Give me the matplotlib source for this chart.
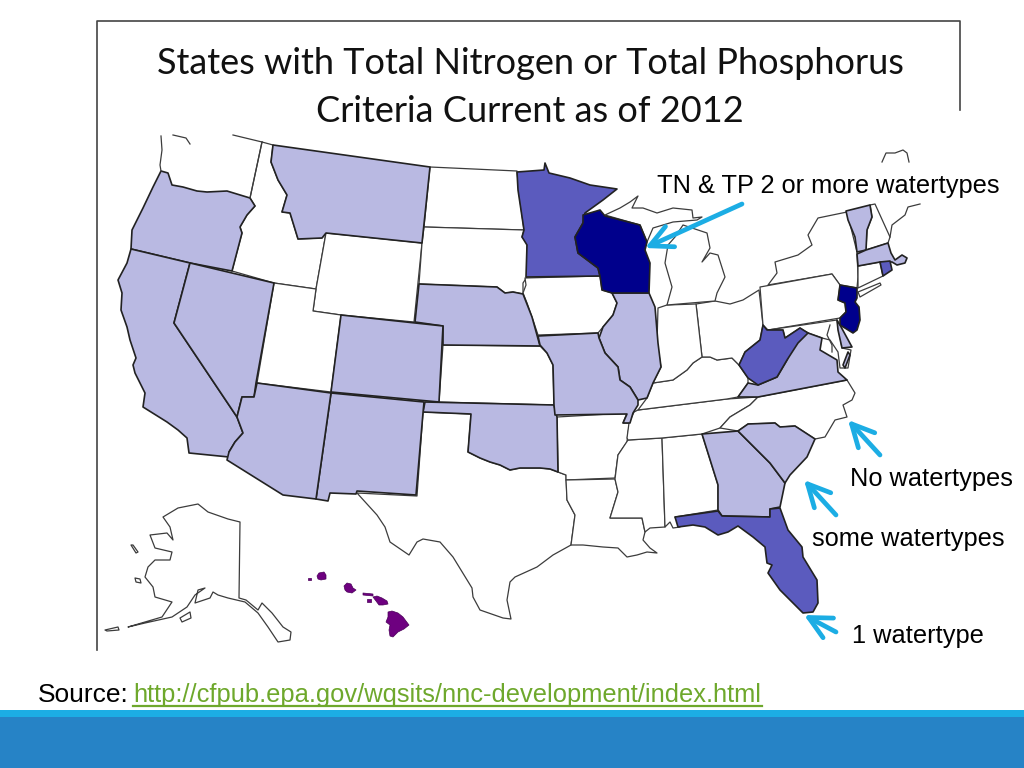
import matplotlib
matplotlib.use("Agg")
import matplotlib.pyplot as plt

# outlines, as (x, y) in picture pixels
OREGON = [(161,171),(168,173),(172,185),(183,187),(197,191),(207,192),(227,191),(250,198),(255,206),(247,215),(240,227),(242,233),(232,271),(190,263),(131,249),(132,230),(143,208),(153,187)]
CALIFORNIA = [(131,249),(190,263),(174,323),(237,417),(243,433),(235,442),(229,452),(229,457),(189,453),(187,438),(178,430),(167,422),(143,407),(145,393),(135,373),(133,365),(136,358),(130,340),(127,327),(121,310),(122,293),(118,280),(127,263)]
NEVADA = [(190,263),(274,283),(256,383),(254,397),(242,397),(237,417),(174,323)]
IDAHO = [(262,142),(273,145),(271,162),(278,180),(287,195),(282,212),(290,213),(298,239),(322,238),(326,233),(316,289),(274,283),(232,271),(242,233),(240,227),(247,215),(255,206),(250,198)]
MONTANA = [(273,145),(430,167),(422,243),(326,233),(322,238),(298,239),(290,213),(282,212),(287,195),(278,180),(271,162)]
WYOMING = [(326,233),(422,243),(414,322),(341,315),(313,311),(316,289)]
NORTH_DAKOTA = [(430,167),(517,171),(519,193),(524,230),(424,227)]
SOUTH_DAKOTA = [(424,227),(524,230),(522,237),(527,243),(527,277),(523,283),(523,294),(513,292),(505,293),(497,287),(419,284),(422,243)]
NEBRASKA = [(419,284),(497,287),(505,293),(513,292),(523,294),(532,317),(540,346),(443,345),(443,326),(415,322)]
UTAH = [(274,283),(316,289),(313,311),(341,315),(331,392),(257,383)]
COLORADO = [(341,315),(443,326),(439,402),(331,392)]
KANSAS = [(443,345),(540,346),(547,353),(553,365),(554,405),(439,402)]
OKLAHOMA = [(425,402),(554,405),(557,417),(558,472),(550,469),(540,468),(530,468),(520,468),(510,470),(500,465),(490,462),(480,458),(468,452),(471,414),(423,412)]
NEW_MEXICO = [(331,393),(424,402),(423,413),(416,495),(357,491),(356,494),(330,493),(328,501),(316,499)]
ARIZONA = [(257,383),(331,393),(316,499),(283,495),(227,460),(229,452),(235,442),(243,433),(237,417),(242,397),(254,397)]
TEXAS = [(423,412),(471,414),(468,452),(480,458),(490,462),(500,465),(510,470),(520,468),(530,468),(540,468),(550,469),(558,472),(566,475),(567,500),(575,515),(571,545),(553,555),(537,567),(515,577),(510,582),(507,600),(511,619),(503,618),(480,610),(473,597),(472,588),(453,557),(440,542),(423,539),(417,542),(409,555),(390,542),(385,527),(377,515),(357,493),(417,496)]
ARKANSAS = [(557,417),(627,413),(623,423),(630,423),(628,432),(627,442),(618,455),(615,478),(566,480),(566,475),(558,472)]
LOUISIANA = [(566,480),(615,479),(618,492),(610,518),(642,518),(645,532),(643,540),(650,548),(657,553),(647,552),(637,555),(627,557),(618,548),(603,547),(583,545),(571,545),(575,515),(567,500)]
MISSISSIPPI = [(628,440),(662,438),(665,527),(650,528),(645,532),(642,518),(610,518),(618,492),(615,479),(618,455)]
ALABAMA = [(662,438),(702,434),(718,485),(718,510),(675,517),(680,527),(673,528),(670,522),(665,527)]
GEORGIA = [(702,434),(738,431),(750,443),(770,463),(785,483),(780,507),(770,509),(770,517),(722,516),(718,510),(718,485)]
SOUTH_CAROLINA = [(738,431),(748,424),(775,423),(780,427),(795,426),(815,439),(807,457),(790,475),(785,483),(770,463),(750,443)]
FLORIDA = [(675,517),(718,511),(722,516),(770,517),(770,509),(780,508),(788,530),(802,547),(803,557),(817,580),(818,603),(813,612),(803,613),(790,600),(780,590),(768,573),(772,565),(767,563),(765,547),(753,537),(738,526),(728,532),(718,535),(705,527),(693,525),(678,527)]
TENNESSEE = [(638,410),(727,399),(758,397),(750,405),(730,417),(720,428),(702,434),(662,438),(628,440),(627,438),(629,423),(634,412)]
NORTH_CAROLINA = [(758,397),(847,380),(855,393),(852,400),(843,405),(847,417),(835,420),(825,437),(815,439),(795,426),(780,427),(775,423),(748,424),(738,431),(720,428),(730,417),(750,405)]
VIRGINIA = [(738,397),(748,383),(758,385),(777,377),(787,360),(793,347),(800,330),(808,333),(822,338),(820,350),(837,360),(838,372),(847,380),(758,397)]
WEST_VIRGINIA = [(763,325),(767,330),(783,330),(785,338),(800,328),(808,333),(798,343),(787,360),(777,377),(758,385),(748,378),(739,365),(745,352),(760,340)]
KENTUCKY = [(702,357),(710,357),(717,360),(732,358),(739,365),(748,378),(748,383),(738,397),(727,399),(638,410),(647,398),(653,383),(673,380),(687,370),(693,363)]
OHIO = [(696,304),(715,301),(730,304),(743,300),(759,290),(763,325),(760,340),(745,352),(739,365),(732,358),(717,360),(710,357),(702,357)]
INDIANA = [(658,308),(667,305),(696,304),(702,357),(693,363),(687,370),(673,380),(653,383),(661,367),(657,343)]
ILLINOIS = [(612,293),(649,293),(655,307),(658,343),(661,367),(653,383),(647,398),(638,400),(630,387),(620,380),(618,367),(605,353),(599,338),(603,327),(613,315),(617,303)]
IOWA = [(525,278),(600,276),(602,290),(612,293),(617,303),(613,315),(603,327),(598,333),(538,335),(533,320),(527,303),(523,293),(526,285)]
MISSOURI = [(538,336),(598,333),(599,338),(605,353),(618,367),(620,380),(630,387),(638,400),(638,405),(633,413),(630,423),(623,423),(627,414),(555,415),(554,405),(553,365),(547,353),(540,345)]
MINNESOTA = [(517,172),(544,170),(545,163),(549,173),(570,178),(590,185),(617,189),(603,200),(585,213),(583,223),(575,237),(578,253),(598,268),(600,276),(526,277),(527,245),(522,237),(524,230),(518,190)]
WISCONSIN = [(583,215),(600,210),(605,216),(640,225),(647,242),(645,250),(650,263),(649,293),(612,293),(602,290),(600,276),(598,268),(578,253),(575,237),(583,223)]
UPPER_MICHIGAN = [(605,215),(620,208),(630,202),(638,196),(632,208),(643,208),(657,213),(673,208),(692,210),(693,218),(702,217),(697,220),(673,222),(653,228),(647,242),(640,225)]
LOWER_MICHIGAN = [(683,225),(707,233),(710,248),(702,262),(710,253),(718,255),(725,277),(717,293),(715,301),(667,305),(672,287),(665,263),(668,245),(675,237)]
NEW_YORK = [(847,212),(818,218),(808,235),(812,245),(798,255),(775,262),(777,273),(768,285),(832,274),(840,285),(857,288),(858,277),(857,252)]
PENNSYLVANIA = [(760,287),(832,274),(840,285),(838,300),(845,303),(846,312),(840,318),(768,330),(763,325)]
NEW_JERSEY = [(840,285),(857,288),(857,298),(855,302),(859,307),(860,320),(857,330),(853,333),(840,325),(840,318),(846,312),(845,303),(838,300)]
DELAWARE = [(837,320),(840,325),(852,347),(842,348),(838,330)]
MARYLAND = [(768,330),(837,320),(842,348),(851,350),(848,368),(840,368),(838,352),(830,340),(822,338),(808,333),(800,328),(785,338),(783,330),(767,330)]
VA_SHORE = [(848,352),(850,355),(845,368),(843,365)]
VERMONT = [(846,211),(870,205),(872,217),(867,230),(866,250),(857,252),(855,237),(848,220)]
NEW_HAMPSHIRE = [(875,204),(890,237),(888,243),(866,250),(867,230),(872,217),(870,205)]
MASSACHUSETTS = [(857,254),(866,250),(888,243),(891,253),(895,260),(902,255),(907,258),(905,263),(897,265),(892,262),(880,262),(858,266)]
RHODE_ISLAND = [(880,262),(890,261),(892,270),(883,276)]
CONNECTICUT = [(858,266),(880,262),(883,276),(858,288)]
LONG_ISLAND = [(858,292),(880,283),(881,285),(860,297)]
KAUAI = [(317,576),(319,573),(324,572),(326,575),(326,579),(321,580),(318,579)]
OAHU = [(344,586),(347,583),(351,584),(353,588),(356,590),(352,593),(347,592),(345,590)]
MAUI = [(373,597),(377,596),(382,598),(387,601),(388,604),(383,605),(379,605),(376,601)]
BIG_ISLAND = [(388,612),(392,611),(398,613),(403,617),(409,625),(404,629),(398,632),(393,637),(390,636),(389,630),(390,625),(386,622),(388,617)]
MOLOKAI = [(363,593),(373,594),(373,596),(363,595)]
LANAI = [(367,599),(371,599),(371,602),(367,602)]
NIIHAU = [(308,578),(311,578),(311,580),(308,580)]
ALASKA = [(163,517),(178,508),(198,504),(208,512),(228,519),(240,522),(239,598),(246,600),(258,610),(262,603),(272,613),(283,627),(291,632),(290,640),(278,642),(268,627),(258,613),(245,602),(228,598),(218,595),(213,592),(210,598),(195,603),(198,590),(205,588),(195,595),(187,607),(172,617),(145,623),(128,627),(145,622),(162,617),(172,602),(155,597),(153,587),(145,577),(148,567),(155,560),(170,560),(172,552),(155,548),(150,535),(167,533),(173,540),(170,527)]
KODIAK = [(180,618),(190,612),(191,618),(182,622)]
ALEUTIAN = [(105,630),(118,627),(119,630),(107,631)]
NUNIVAK = [(135,578),(140,579),(141,583),(136,582)]
ST_LAWRENCE = [(131,545),(133,545),(138,552),(136,553)]

WASHINGTON_COAST = [(161,136),(162,150),(160,165),(161,171)]
PUGET_SOUND = [(173,135),(186,138),(190,144)]
WASHINGTON_TOP = [(233,135),(262,142)]
WASHINGTON_EAST = [(262,142),(250,198)]
MAINE_COAST = [(890,237),(892,225),(905,215),(908,207),(920,204)]
MAINE_TOP = [(882,162),(886,153),(895,153),(903,150),(907,153),(909,162)]
CHESAPEAKE = [(830,325),(827,335),(832,345),(832,352)]

WHITE_STATES = [IDAHO, WYOMING, NORTH_DAKOTA, SOUTH_DAKOTA, UTAH, KANSAS, TEXAS, ARKANSAS, LOUISIANA, MISSISSIPPI, ALABAMA, TENNESSEE, NORTH_CAROLINA, KENTUCKY, OHIO, INDIANA, IOWA, UPPER_MICHIGAN, LOWER_MICHIGAN, NEW_YORK, PENNSYLVANIA, MARYLAND, NEW_HAMPSHIRE, CONNECTICUT, LONG_ISLAND, ALASKA, KODIAK, ALEUTIAN, NUNIVAK, ST_LAWRENCE]
SOME_STATES = [OREGON, CALIFORNIA, NEVADA, MONTANA, NEBRASKA, COLORADO, OKLAHOMA, NEW_MEXICO, ARIZONA, GEORGIA, SOUTH_CAROLINA, VIRGINIA, ILLINOIS, MISSOURI, DELAWARE, VA_SHORE, VERMONT, MASSACHUSETTS]
ONE_TYPE_STATES = [FLORIDA, WEST_VIRGINIA, MINNESOTA, RHODE_ISLAND]
TWO_TYPE_STATES = [WISCONSIN, NEW_JERSEY]
HAWAII = [OAHU, KAUAI, MAUI, BIG_ISLAND, MOLOKAI, LANAI, NIIHAU]
OPEN_LINES = [WASHINGTON_COAST, PUGET_SOUND, WASHINGTON_TOP, WASHINGTON_EAST, MAINE_COAST, MAINE_TOP, CHESAPEAKE]

TITLE_LINES = ["States with Total Nitrogen or Total Phosphorus", "Criteria Current as of 2012"]
SOURCE_URL = "http://cfpub.epa.gov/wqsits/nnc-development/index.html"

fig = plt.figure(figsize=(10.24, 7.68), dpi=100)
ax = fig.add_axes([0, 0, 1, 1])
ax.set_xlim(0, 1024)
ax.set_ylim(768, 0)
ax.axis("off")


def draw_group(states, color, edge="#222222", lw=1.2):

    for state in states:
        xs, ys = zip(*state)
        ax.fill(xs, ys, facecolor=color, edgecolor=edge, linewidth=lw, joinstyle="round")


draw_group(WHITE_STATES, "white", edge="#3c3c3c", lw=0.9)
draw_group(SOME_STATES, "#B9B9E2")
draw_group(ONE_TYPE_STATES, "#5B5BBE")
draw_group(TWO_TYPE_STATES, "#00008C")
draw_group(HAWAII, "#6E0080", edge="#4a0058", lw=0.5)

for line in OPEN_LINES:
    xs, ys = zip(*line)
    ax.plot(xs, ys, color="#3c3c3c", lw=0.9)

# slide frame
ax.plot([97, 97, 960, 960], [650, 21, 21, 110], color="#444444", lw=1.2)

ax.text(530, 64, TITLE_LINES[0], family="Lato", fontsize=26, ha="center", va="center", color="#111111")
ax.text(530, 111, TITLE_LINES[1], family="Lato", fontsize=26, ha="center", va="center", color="#111111")

for label, x, y in [("TN & TP 2 or more watertypes", 828, 186), ("No watertypes", 931, 479), ("some watertypes", 908, 539), ("1 watertype", 918, 636)]:
    ax.text(x, y, label, family="Liberation Sans", fontsize=18.3, ha="center", va="center", color="black")

for start, end in [((742, 204), (645, 248)), ((880, 455), (848, 420)), ((836, 515), (804, 480)), ((836, 632), (804, 615))]:
    ax.annotate("", xy=end, xytext=start, arrowprops=dict(arrowstyle="->,head_length=1.0,head_width=0.5", mutation_scale=16, color="#1CADE4", lw=3.4, shrinkA=0, shrinkB=0))

# footer
ax.fill_between([0, 1024], 717, 768, color="#2683C6", lw=0)
ax.fill_between([0, 1024], 710, 717, color="#1CADE4", lw=0)

ax.text(38, 695, "Source:", family="Liberation Sans", fontsize=19, ha="left", va="center", color="black")
ax.text(133, 695, SOURCE_URL, family="Liberation Sans", fontsize=18.4, ha="left", va="center", color="#6EA82C")
ax.plot([133, 762], [706, 706], color="#6EA82C", lw=1.6)

fig.savefig("out.png", dpi=100)
